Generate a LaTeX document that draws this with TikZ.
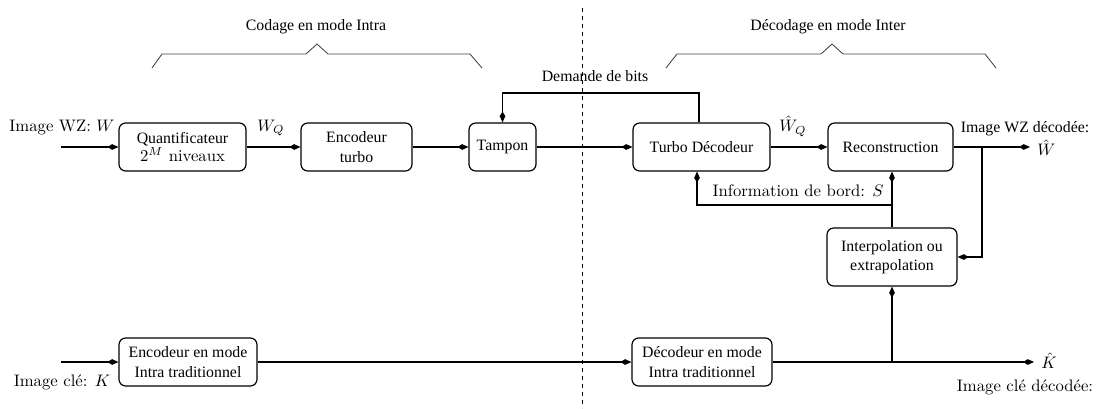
\documentclass[tikz,border=0pt]{standalone}
\usepackage{fontspec}
\newfontfamily\tms{Liberation Serif}
\usetikzlibrary{arrows.meta}
\begin{document}
\begin{tikzpicture}[x=0.6pt,y=-0.6pt,
 blk/.style={draw,rounded corners=4pt,line width=0.7pt,align=center,font=\tms\fontsize{9.5}{11.5}\selectfont,inner sep=0pt,minimum height=28.8pt},
 conn/.style={line width=0.7pt,-{Kite[length=6.5pt,width=3.4pt,inset=2.7pt]}},
 ln/.style={line width=0.7pt},
 brace/.style={line width=0.5pt,draw=black!75},
 lbl/.style={font=\fontsize{10}{12}\selectfont,inner sep=0pt},
 tlbl/.style={font=\tms\fontsize{9.5}{11}\selectfont,inner sep=0pt}]
\useasboundingbox (0,0) rectangle (1105,408);

% divider
\draw[line width=0.5pt,dash pattern=on 2.4pt off 2.4pt] (582,8) -- (582,408);

% titles and braces
\node[tlbl] (t1) at (316,27) {Codage en mode Intra};
\node[tlbl] (t2) at (828,27) {Décodage en mode Inter};
\draw[brace] (152,68)--(162,54)--(306,54)--(317,44)--(328,54)--(470,54)--(482,68);
\draw[brace] (666,68)--(677,54)--(821,54)--(832,44)--(843,54)--(985,54)--(996,68);

% blocks
\node[blk,minimum width=76.2pt] (quant) at (182.5,147) {Quantificateur\\[-1pt]{\rmfamily\fontsize{10}{12}\selectfont$2^M$ niveaux}};
\node[blk,minimum width=66.6pt] (enc) at (356.5,147) {Encodeur\\turbo};
\node[blk,minimum width=40.2pt] (tamp) at (502.5,147) {Tampon};
\node[blk,minimum width=82.2pt] (turbo) at (701.5,147) {Turbo Décodeur};
\node[blk,minimum width=75pt] (recon) at (890.5,147) {Reconstruction};
\node[blk,minimum width=78pt,minimum height=34.8pt] (interp) at (892,257) {Interpolation ou\\extrapolation};
\node[blk,minimum width=82.8pt] (encintra) at (188,362) {Encodeur en mode\\Intra traditionnel};
\node[blk,minimum width=84pt] (decintra) at (702,362) {Décodeur en mode\\Intra traditionnel};

% coordinates
\coordinate (win) at (61,147);
\coordinate (dtop) at (699,93);
\coordinate (ibr) at (891,205);
\coordinate (itl) at (697,205);
\coordinate (wout) at (1030,147);
\coordinate (br) at (982,147);
\coordinate (kin) at (61,362);
\coordinate (kout) at (1034,362);

% upper chain
\draw[conn] (win) -- (quant);
\draw[conn] (quant) -- (enc);
\draw[conn] (enc) -- (tamp);
\draw[conn] (tamp) -- (turbo);
\draw[conn] (turbo) -- (recon);
\draw[conn] (recon) -- (wout);
\draw[conn] (turbo.north -| dtop) -- (dtop) -- (tamp.north |- dtop) -- (tamp.north);
\draw[conn] (br) |- (interp.east);
\draw[conn] (interp.north) -- (interp.north |- recon.south);
\draw[conn] (interp.north |- ibr) -- (itl) -- (turbo.south -| itl);

% lower chain
\draw[conn] (kin) -- (encintra);
\draw[conn] (encintra) -- (decintra);
\draw[conn] (decintra) -- (kout);
\draw[conn] (interp.south |- kout) -- (interp.south);

% labels
\node[lbl] (lw) at (62,128) {Image WZ: $W$};
\node[lbl] (lwq) at (271,128) {$W_Q$};
\node[tlbl] (ldem) at (595,76) {Demande de bits};
\node[lbl] (lwqh) at (793,126) {$\hat W_Q$};
\node[lbl,anchor=east] (linfo) at (884,191) {Information de bord: $S$};
\node[tlbl] (lwd) at (1025,129) {Image WZ décodée:};
\node[lbl,anchor=west] (lwh) at (1037,148) {$\hat W$};
\node[lbl] (lk) at (62,382) {Image clé: $K$};
\node[lbl,anchor=west] (lkh) at (1041,361) {$\hat K$};
\node[lbl] (lkd) at (1025,387) {Image clé décodée:};
\end{tikzpicture}
\end{document}
